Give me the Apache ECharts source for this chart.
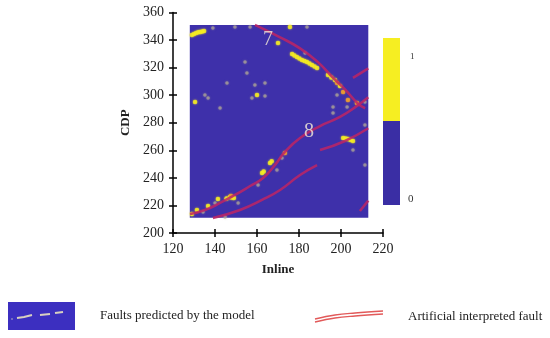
<!DOCTYPE html>
<html><head><meta charset="utf-8">
<script src="https://cdn.jsdelivr.net/npm/echarts@6/dist/echarts.min.js"></script>
<style>html,body{margin:0;padding:0;background:#fff}#c{width:550px;height:338px}</style>
</head><body><div id="c"></div>
<script>
// axis ranges / ticks
const inlineRange = [120, 220];
const cdpRange = [200, 360];
const tickStep = 20;
// extent of the predicted-fault image
const imageInline = [128, 213];
const imageCDP = [211, 351];
// artificial interpreted faults (inline, CDP)
const fault7 = [[159,351],[171,342],[180.5,334],[189,324],[196,313],[202,304],[208,294],[211.5,290.5]];
const fault8 = [[128.1,213.8],[135.2,216.7],[142.4,221.8],[149.5,227.6],[156.7,234.1],[162.9,239.9],[168.6,249.4],[173.3,258.8],[180.5,268.9],[190,277.6],[199.5,284.2],[207.6,292.2],[213,298.5]];
const faultTopRight = [[205.7,312.5],[213,319.5]];
const faultMidRight = [[190,260.2],[201.9,266.8],[213,276]];
const faultLower = [[139,210.9],[151.9,216.7],[162.4,224],[171,231.2],[180.5,242.1],[188.6,249.3]];
const faultBottomRight = [[209,216],[213,223.5]];
// fault labels
const faultNames = ['7', '8'];
const faultNameInline = [165.2, 184.8];
const faultNameCDP = [340, 273.3];
// predicted fault pixels (inline, CDP)
const yellowPixels = [[129.0,343.7],[130.0,344.4],[131.0,345.1],[132.0,345.6],[132.9,345.9],[133.9,346.3],[134.8,346.6],
 [176.7,329.9],[177.8,328.8],[179.0,327.7],[180.2,326.6],[181.4,325.5],[182.6,324.8],[183.8,324.1],[185.0,323.0],[186.2,321.9],[187.4,320.8],[188.6,319.7],
 [175.7,349.5],[170.0,337.9],[193.8,314.6],[195.4,312.8],[197.1,311.0],[199.5,306.7],
 [130.5,295.1],[160.0,300.1],[201.0,268.9],[202.2,268.6],[203.3,268.2],[204.5,267.5],[205.7,266.8],
 [166.2,250.8],[167.0,252.0],[162.4,243.5],[163.2,244.6],[147.1,226.1],[148.0,225.8],[149.0,225.4],[145.5,225.0],[141.4,224.7],[136.7,219.6],[131.4,216.7],[129.0,213.8]];
const orangePixels = [[201.0,302.3],[203.3,296.5],[207.6,294.3],[173.3,258.0],[198.1,308.8],[147.6,226.9]];
const grayPixels = [[139.0,348.8],[149.5,349.5],[156.7,349.5],[183.8,349.5],[154.3,324.1],[155.2,316.1],
 [145.7,308.8],[159.0,307.4],[163.8,308.8],[157.6,298.0],[163.8,299.4],[135.2,300.1],[136.7,298.0],
 [142.4,290.7],[182.9,330.6],[198.1,300.1],[196.2,291.4],[202.9,291.4],[211.4,295.1],[205.7,260.2],
 [211.4,278.4],[211.4,249.3],[196.2,287.1],[171.9,254.4],[169.5,245.7],[160.5,234.8],[151.0,221.8],
 [144.8,211.6],[140.0,221.8],[134.3,215.3]];
// colour bar labels
const colorbarLabels = ['1', '0'];
// legend texts
const legendTexts = ['Faults predicted by the model', 'Artificial interpreted fault'];

const BLUE = '#3e30aa', YELLOW = '#f6ee22', FAULT = 'rgba(190,36,100,0.85)';
const serif = 'Liberation Serif';

function faultSeries(data){
  return {type:'line', data:data, smooth:true, showSymbol:false, silent:true, z:4,
    lineStyle:{color:FAULT, width:2.6}};
}
function pixelSeries(data, color, size){
  return {type:'scatter', data:data, symbolSize:size, silent:true, z:3,
    itemStyle:{color:color, shadowBlur:2, shadowColor:color}};
}
const axisBase = {
  type:'value', splitLine:{show:false},
  axisLine:{show:true, onZero:false, lineStyle:{color:'#000', width:1.5}},
  axisTick:{show:true, length:4, lineStyle:{color:'#000', width:1.5}},
  axisLabel:{color:'#222', fontFamily:serif, fontSize:14}
};
const chart = echarts.init(document.getElementById('c'), null, {renderer:'canvas'});
chart.setOption({
  animation:false,
  grid:{left:173, top:12.5, width:210, height:220.5},
  xAxis:[
    Object.assign({}, axisBase, {min:inlineRange[0], max:inlineRange[1], interval:tickStep, position:'bottom',
      axisLabel:Object.assign({}, axisBase.axisLabel, {margin:9}),
      name:'Inline', nameLocation:'middle', nameGap:30,
      nameTextStyle:{fontFamily:serif, fontSize:13, fontWeight:'bold', color:'#222'}}),
    Object.assign({}, axisBase, {min:inlineRange[0], max:inlineRange[1], interval:tickStep, position:'bottom',
      axisLine:{show:false, onZero:false}, axisLabel:{show:false},
      axisTick:{show:true, inside:true, length:4, lineStyle:{color:'#000', width:1.5}}})
  ],
  yAxis:[
    Object.assign({}, axisBase, {min:cdpRange[0], max:cdpRange[1], interval:tickStep, position:'left',
      axisLabel:Object.assign({}, axisBase.axisLabel, {margin:9}),
      name:'CDP', nameLocation:'middle', nameGap:41,
      nameTextStyle:{fontFamily:serif, fontSize:13, fontWeight:'bold', color:'#222'}}),
    Object.assign({}, axisBase, {min:cdpRange[0], max:cdpRange[1], interval:tickStep, position:'left',
      axisLine:{show:false, onZero:false}, axisLabel:{show:false},
      axisTick:{show:true, inside:true, length:4, lineStyle:{color:'#000', width:1.5}}})
  ],
  series:[
    {type:'scatter', data:[], z:1, silent:true,
      markArea:{silent:true, itemStyle:{color:BLUE},
        data:[[{coord:[imageInline[0], imageCDP[0]]},{coord:[imageInline[1], imageCDP[1]]}]]}},
    pixelSeries(grayPixels, 'rgba(175,165,150,0.85)', 3.5),
    pixelSeries(yellowPixels, YELLOW, 4.5),
    pixelSeries(orangePixels, '#f2a02a', 4.5),
    faultSeries(fault7), faultSeries(fault8), faultSeries(faultTopRight),
    faultSeries(faultMidRight), faultSeries(faultLower), faultSeries(faultBottomRight),
    {type:'scatter', z:6, silent:true, symbolSize:0,
      data:faultNames.map((n,i)=>({value:[faultNameInline[i], faultNameCDP[i]], name:n})),
      label:{show:true, position:'inside', formatter:p=>p.name, fontFamily:serif, fontSize:20, color:'#f5ecd8'}}
  ],
  graphic:[
    {type:'rect', shape:{x:383, y:38, width:17, height:83}, style:{fill:YELLOW}},
    {type:'rect', shape:{x:383, y:121, width:17, height:84}, style:{fill:'#3a2ea4'}},
    {type:'text', x:410, y:57, style:{text:colorbarLabels[0], font:'9px '+serif, fill:'#333', verticalAlign:'middle'}},
    {type:'text', x:408, y:199, style:{text:colorbarLabels[1], font:'11px '+serif, fill:'#333', verticalAlign:'middle'}},
    // legend 1
    {type:'rect', shape:{x:8, y:302, width:67, height:28}, style:{fill:'#3c2fc0'}},
    {type:'polyline', shape:{points:[[17,318],[24,317],[32,315]]}, style:{stroke:'#d8d0c0', lineWidth:2}},
    {type:'polyline', shape:{points:[[40,315],[50,314]]}, style:{stroke:'#d8d0c0', lineWidth:2}},
    {type:'polyline', shape:{points:[[55,313],[63,312]]}, style:{stroke:'#d8d0c0', lineWidth:2}},
    {type:'circle', shape:{cx:12, cy:319, r:0.8}, style:{fill:'#bbb'}},
    {type:'text', x:100, y:316, style:{text:legendTexts[0], font:'13px '+serif, fill:'#222', verticalAlign:'middle'}},
    // legend 2
    {type:'polyline', shape:{points:[[315,319],[335,315],[355,313],[383,311]], smooth:0.4}, style:{stroke:'#e25a5a', lineWidth:1.3}},
    {type:'polyline', shape:{points:[[315,322],[335,318],[355,316],[383,314]], smooth:0.4}, style:{stroke:'#e25a5a', lineWidth:1.3}},
    {type:'text', x:408, y:317, style:{text:legendTexts[1], font:'13px '+serif, fill:'#222', verticalAlign:'middle'}}
  ]
});
</script></body></html>
